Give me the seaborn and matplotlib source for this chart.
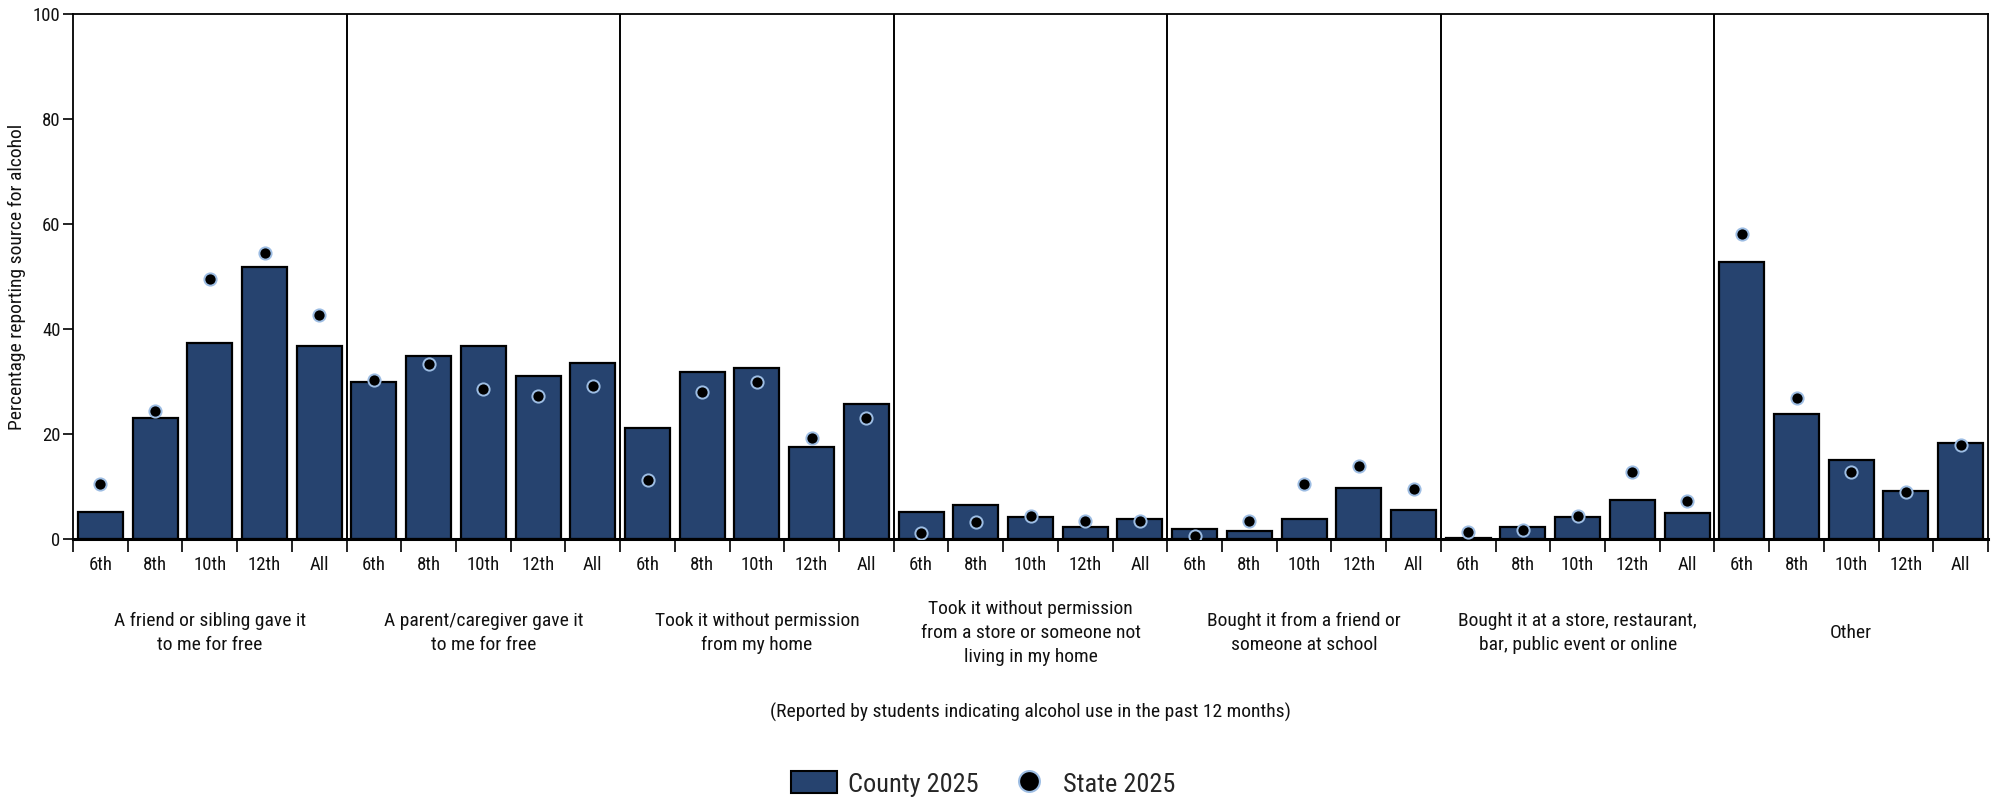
import numpy as np
import pandas as pd
import matplotlib
matplotlib.use("Agg")
import matplotlib.pyplot as plt
import matplotlib.transforms as mtransforms
from matplotlib.patches import Patch
from matplotlib.lines import Line2D
from matplotlib import font_manager
import seaborn as sns

# ---------------- data ----------------
groups = [
    "A friend or sibling gave it\nto me for free",
    "A parent/caregiver gave it\nto me for free",
    "Took it without permission\nfrom my home",
    "Took it without permission\nfrom a store or someone not\nliving in my home",
    "Bought it from a friend or\nsomeone at school",
    "Bought it at a store, restaurant,\nbar, public event or online",
    "Other",
]
grades = ["6th", "8th", "10th", "12th", "All"]

county_2025 = [
    5.2, 23.1, 37.4, 51.8, 36.8,
    30.0, 34.9, 36.8, 31.0, 33.6,
    21.2, 31.9, 32.6, 17.6, 25.7,
    5.2, 6.5, 4.2, 2.2, 3.9,
    2.0, 1.6, 3.9, 9.8, 5.5,
    0.1, 2.2, 4.2, 7.5, 4.9,
    52.8, 23.8, 15.0, 9.1, 18.2,
]
state_2025 = [
    10.4, 24.4, 49.5, 54.4, 42.7,
    30.3, 33.4, 28.5, 27.2, 29.1,
    11.2, 28.0, 29.9, 19.3, 23.1,
    1.2, 3.3, 4.3, 3.5, 3.5,
    0.5, 3.5, 10.4, 14.0, 9.6,
    1.3, 1.7, 4.4, 12.8, 7.3,
    58.1, 26.8, 12.7, 9.0, 18.0,
]
y_ticks = [0, 20, 40, 60, 80, 100]
y_label = "Percentage reporting source for alcohol"
caption = "(Reported by students indicating alcohol use in the past 12 months)"
legend_labels = ["County 2025", "State 2025"]

# ---------------- style ----------------
sns.set_theme(style="ticks")
names = {f.name for f in font_manager.fontManager.ttflist}
cond = [n for n in ["Roboto Condensed", "Open Sans Condensed", "Liberation Sans Narrow",
                    "DejaVu Sans Condensed"] if n in names]
plt.rcParams["font.family"] = cond + ["DejaVu Sans"]
plt.rcParams["font.stretch"] = "condensed"
bar_color = "#26436f"
dot_edge = "#9dbde3"
txt = "#111111"

keys = [f"{gi}|{gr}" for gi in range(len(groups)) for gr in grades]
df = pd.DataFrame({"key": keys, "county": county_2025, "state": state_2025})

fig = plt.figure(figsize=(20.01, 8.01), dpi=100)
W, H = 2001, 801
ax = fig.add_axes([73 / W, 1 - 539 / H, (1988 - 73) / W, (539 - 14) / H])

sns.barplot(data=df, x="key", y="county", order=keys, color=bar_color,
            saturation=1, edgecolor="black", linewidth=1.6, width=0.82, ax=ax)
sns.stripplot(data=df, x="key", y="state", order=keys, jitter=False,
              color="black", edgecolor=dot_edge, linewidth=1.4, size=8.8,
              ax=ax, zorder=5)

n = len(keys)
ax.set_xlim(-0.5, n - 0.5)
ax.set_ylim(0, 100)
ax.set_yticks(y_ticks)
ax.set_yticklabels([str(t) for t in y_ticks], fontsize=13.5)
ax.set_xticks(np.arange(n))
ax.set_xticklabels(grades * len(groups), fontsize=13.5)
ax.set_xticks(np.arange(-0.5, n, 1), minor=True)
ax.tick_params(axis="x", which="major", length=0, pad=12, colors=txt)
ax.tick_params(axis="x", which="minor", length=9, width=1.2, color="black")
ax.tick_params(axis="y", length=7, width=1.2, color="black", pad=2, colors=txt)
ax.set_xlabel("")
ax.set_ylabel(y_label, fontsize=14, labelpad=5, color=txt)

for s in ax.spines.values():
    s.set_visible(True)
    s.set_color("black")
    s.set_linewidth(1.3)
ax.spines["bottom"].set_linewidth(2.2)

for i in range(1, len(groups)):
    ax.axvline(i * len(grades) - 0.5, color="black", lw=1.4, zorder=1)

trans = mtransforms.blended_transform_factory(ax.transData, fig.transFigure)
for gi, g in enumerate(groups):
    cx = gi * len(grades) + (len(grades) - 1) / 2
    ax.text(cx, 1 - 633 / H, g, transform=trans, ha="center", va="center",
            fontsize=14, linespacing=1.45, color=txt)

fig.text((73 + 1988) / 2 / W, 1 - 712 / H, caption, ha="center", va="center",
         fontsize=14, color=txt)

handles = [
    Patch(facecolor=bar_color, edgecolor="black", linewidth=1.5),
    Line2D([], [], marker="o", linestyle="none", markerfacecolor="black",
           markeredgecolor=dot_edge, markersize=15, markeredgewidth=1.5),
]
fig.legend(handles, legend_labels, loc="center", bbox_to_anchor=(983 / W, 1 - 784 / H),
           ncol=2, frameon=False, fontsize=19, handlelength=1.75, handleheight=0.9,
           columnspacing=1.05, handletextpad=0.4)

fig.savefig("out.png", dpi=100)
